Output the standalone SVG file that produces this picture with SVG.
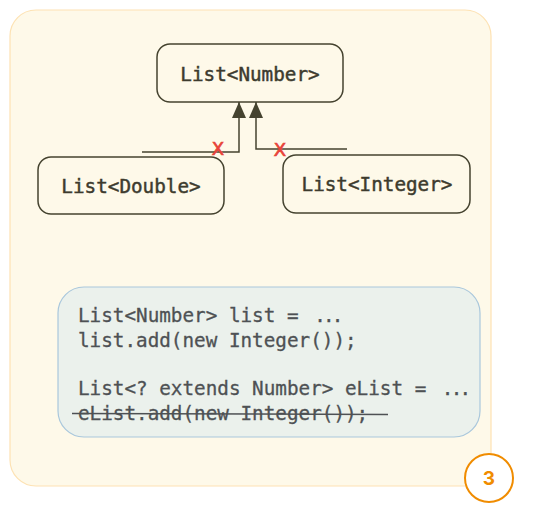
<svg xmlns="http://www.w3.org/2000/svg" width="534" height="511" viewBox="0 0 534 511">
  <defs>
    <marker id="tri" viewBox="0 0 16 14" refX="16" refY="7" markerWidth="16" markerHeight="14" markerUnits="userSpaceOnUse" orient="auto">
      <path d="M0,0 L16,7 L0,14 Z" fill="#45432f"/>
    </marker>
    <style>
      .node rect { fill: none; stroke: #45432f; stroke-width: 1.5; }
      .lbl { font-family: "DejaVu Sans Mono", "Liberation Mono", monospace; font-size: 19.3px; fill: #3d3b2e; stroke: #3d3b2e; stroke-width: 0.45; text-anchor: middle; }
      .code { font-family: "DejaVu Sans Mono", "Liberation Mono", monospace; font-size: 19.3px; fill: #4e5154; stroke: #4e5154; stroke-width: 0.3; }
      .conn { fill: none; stroke: #45432f; stroke-width: 1.5; }
      .xm { font-family: "DejaVu Sans", "Liberation Sans", sans-serif; font-size: 18px; fill: #e8443a; stroke: #e8443a; stroke-width: 0.7; text-anchor: middle; }
    </style>
  </defs>

  <rect id="frame" x="10" y="10" width="481" height="476" rx="26" fill="#fef9e9" stroke="#fde2b3" stroke-width="1.2"/>

  <g id="connectors">
    <polyline class="conn" points="142,152 239,152 239,102" marker-end="url(#tri)"/>
    <polyline class="conn" points="347,149 256,149 256,102" marker-end="url(#tri)"/>
    <text class="xm" x="218" y="155">X</text>
    <text class="xm" x="280" y="156">X</text>
  </g>

  <g id="node-number" class="node">
    <rect x="157" y="44" width="186" height="58" rx="13"/>
    <text class="lbl" x="250" y="81">List&lt;Number&gt;</text>
  </g>

  <g id="node-double" class="node">
    <rect x="38" y="157" width="186" height="57" rx="13"/>
    <text class="lbl" x="131" y="193">List&lt;Double&gt;</text>
  </g>

  <g id="node-integer" class="node">
    <rect x="283" y="155" width="187" height="58" rx="13"/>
    <text class="lbl" x="377" y="191">List&lt;Integer&gt;</text>
  </g>

  <g id="code-box">
    <rect x="58" y="287" width="422" height="150" rx="26" fill="#ebf1ec" stroke="#a9c7dc" stroke-width="1.2"/>
    <text class="code" x="78" y="322">List&lt;Number&gt; list = <tspan dx="4" letter-spacing="-2.8">...</tspan></text>
    <text class="code" x="78" y="347">list.add(new Integer());</text>
    <text class="code" x="78" y="395">List&lt;? extends Number&gt; eList = <tspan dx="4" letter-spacing="-2.8">...</tspan></text>
    <text class="code" x="78" y="420">eList.add(new Integer());</text>
    <path d="M72,413.5 L388,414.5" fill="none" stroke="#4e5154" stroke-width="1.5"/>
  </g>

  <g id="badge">
    <circle cx="489" cy="478" r="24" fill="#ffffff" stroke="#f08c00" stroke-width="2"/>
    <text x="489" y="485" font-family="Inter, 'DejaVu Sans', sans-serif" font-size="19" font-weight="700" fill="#f08c00" text-anchor="middle">3</text>
  </g>
</svg>
